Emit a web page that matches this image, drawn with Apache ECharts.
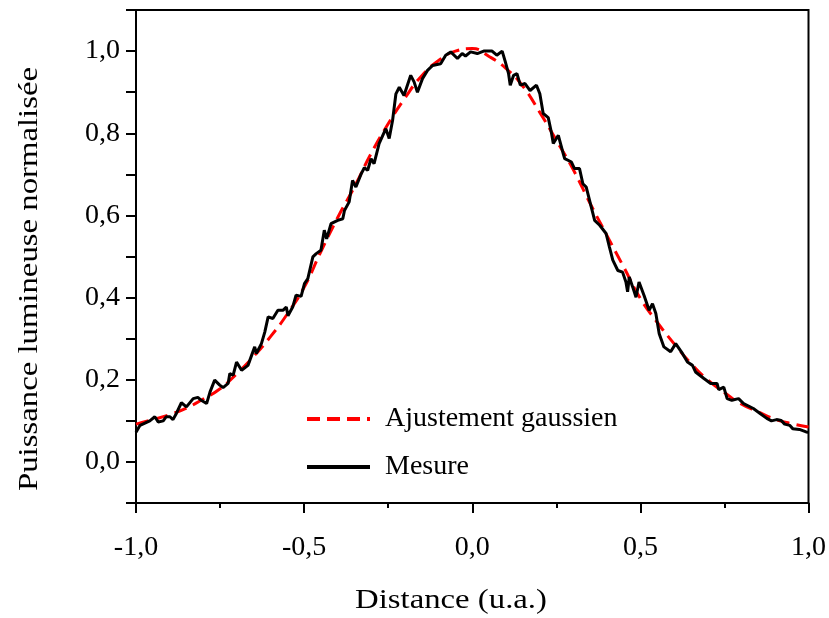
<!DOCTYPE html>
<html>
<head>
<meta charset="utf-8">
<script src="https://cdn.jsdelivr.net/npm/echarts@6/dist/echarts.min.js"></script>
<style>
html,body{margin:0;padding:0;background:#fff;}
#c{width:829px;height:618px;}
</style>
</head>
<body>
<div id="c"></div>
<script>
// Gaussian fit
var fitX = [-1.00,-0.95,-0.90,-0.85,-0.80,-0.75,-0.70,-0.65,-0.60,-0.55,-0.50,-0.45,-0.40,-0.35,-0.30,-0.25,-0.20,-0.15,-0.10,-0.05,0.00,0.05,0.10,0.15,0.20,0.25,0.30,0.35,0.40,0.45,0.50,0.55,0.60,0.65,0.70,0.75,0.80,0.85,0.90,0.95,1.00];
var fitY = [0.092,0.103,0.115,0.131,0.153,0.178,0.215,0.257,0.305,0.360,0.425,0.512,0.595,0.670,0.752,0.823,0.886,0.940,0.977,1.000,1.006,0.987,0.958,0.915,0.852,0.783,0.712,0.630,0.552,0.475,0.398,0.340,0.288,0.240,0.200,0.169,0.141,0.122,0.104,0.093,0.085];

var mesX = [-1.000,-0.988,-0.959,-0.944,-0.934,-0.919,-0.910,-0.899,-0.890,-0.880,-0.865,-0.850,-0.830,-0.816,-0.806,-0.790,-0.780,-0.766,-0.751,-0.741,-0.726,-0.721,-0.711,-0.701,-0.686,-0.667,-0.647,-0.642,-0.627,-0.617,-0.607,-0.593,-0.578,-0.563,-0.553,-0.548,-0.534,-0.524,-0.509,-0.499,-0.489,-0.474,-0.464,-0.450,-0.440,-0.433,-0.420,-0.400,-0.385,-0.380,-0.366,-0.356,-0.346,-0.331,-0.321,-0.311,-0.301,-0.292,-0.277,-0.257,-0.247,-0.237,-0.227,-0.217,-0.203,-0.183,-0.173,-0.163,-0.158,-0.148,-0.133,-0.118,-0.094,-0.079,-0.064,-0.044,-0.030,-0.020,-0.005,0.015,0.034,0.059,0.073,0.089,0.098,0.108,0.113,0.123,0.133,0.143,0.157,0.172,0.191,0.201,0.211,0.226,0.236,0.241,0.256,0.270,0.275,0.295,0.304,0.319,0.329,0.339,0.354,0.364,0.379,0.398,0.408,0.418,0.433,0.447,0.457,0.462,0.467,0.477,0.487,0.496,0.511,0.526,0.536,0.546,0.556,0.570,0.590,0.605,0.625,0.640,0.655,0.664,0.689,0.709,0.728,0.733,0.748,0.758,0.772,0.792,0.807,0.836,0.856,0.876,0.890,0.905,0.919,0.929,0.944,0.953,0.973,0.993,1.000];
var mesY = [0.072,0.089,0.100,0.110,0.097,0.100,0.110,0.110,0.103,0.118,0.144,0.134,0.154,0.157,0.150,0.142,0.170,0.199,0.187,0.181,0.191,0.215,0.211,0.243,0.223,0.235,0.280,0.264,0.288,0.316,0.353,0.349,0.369,0.369,0.377,0.356,0.377,0.406,0.403,0.434,0.446,0.499,0.507,0.515,0.564,0.543,0.580,0.588,0.592,0.612,0.633,0.685,0.669,0.700,0.716,0.710,0.738,0.726,0.775,0.811,0.787,0.831,0.896,0.912,0.892,0.941,0.925,0.900,0.900,0.933,0.953,0.965,0.969,0.990,0.998,0.982,0.994,0.988,0.998,0.994,1.000,1.000,0.990,1.000,0.975,0.945,0.917,0.941,0.945,0.917,0.921,0.904,0.917,0.896,0.848,0.838,0.799,0.775,0.795,0.752,0.738,0.730,0.714,0.714,0.677,0.669,0.620,0.588,0.576,0.556,0.523,0.491,0.466,0.462,0.438,0.414,0.450,0.426,0.401,0.438,0.405,0.369,0.385,0.361,0.312,0.280,0.268,0.288,0.264,0.243,0.235,0.219,0.203,0.191,0.191,0.176,0.182,0.154,0.150,0.154,0.142,0.130,0.118,0.106,0.100,0.103,0.101,0.092,0.089,0.081,0.079,0.073,0.072];

var xTitle = 'Distance (u.a.)';
var yTitle = 'Puissance lumineuse normalisée';
var fitName = 'Ajustement gaussien';
var mesName = 'Mesure';

function pairs(xs, ys){ return xs.map(function(x,i){ return [x, ys[i]]; }); }
function fmt(v){ return v.toFixed(1).replace('.', ','); }

var FONT = 'Liberation Serif';
var chart = echarts.init(document.getElementById('c'), null, {renderer:'canvas'});
chart.setOption({
  animation:false,
  backgroundColor:'#fff',
  grid:{left:136, right:18, top:10, bottom:115, show:true, borderColor:'#000', borderWidth:2, backgroundColor:'transparent'},
  xAxis:{
    type:'value', min:-1, max:1, interval:0.5,
    axisLine:{show:true, onZero:false, lineStyle:{color:'#000', width:2}},
    axisTick:{show:true, inside:false, length:10, lineStyle:{color:'#000', width:2}},
    minorTick:{show:true, splitNumber:2, length:5, lineStyle:{color:'#000', width:2}},
    splitLine:{show:false},
    axisLabel:{color:'#000', fontFamily:FONT, fontSize:28, margin:31, formatter:fmt}
  },
  yAxis:{
    type:'value', min:-0.1, max:1.1, interval:0.1,
    axisLine:{show:true, onZero:false, lineStyle:{color:'#000', width:2}},
    axisTick:{show:true, inside:false, length:10, lineStyle:{color:'#000', width:2}},
    splitLine:{show:false},
    axisLabel:{color:'#000', fontFamily:FONT, fontSize:28, margin:16, formatter:function(v){
      var r = Math.round(v*10);
      if (r>=0 && r<=10 && r%2===0) return fmt(r/10);
      return '';
    }}
  },
  legend:{
    orient:'vertical', left:305, top:405, padding:0, itemWidth:63, itemHeight:24, itemGap:20,
    data:[fitName, mesName],
    itemStyle:{opacity:0},
    lineStyle:{width:4},
    textStyle:{color:'#000', fontFamily:FONT, fontSize:28, padding:[0,0,0,10]},
    selectedMode:false
  },
  graphic:[
    {type:'text', x:451, y:601, scaleX:1.17, style:{text:xTitle, fill:'#000', font:'28px "Liberation Serif"', textAlign:'center', textVerticalAlign:'middle'}},
    {type:'text', x:30, y:279, rotation:Math.PI/2, scaleX:1.17, style:{text:yTitle, fill:'#000', font:'28px "Liberation Serif"', textAlign:'center', textVerticalAlign:'middle'}}
  ],
  series:[
    {name:fitName, type:'line', data:pairs(fitX, fitY), smooth:true, symbol:'none', z:2,
      lineStyle:{color:'#ff0000', width:3, type:[13,7]}, itemStyle:{color:'#ff0000'}},
    {name:mesName, type:'line', data:pairs(mesX, mesY), symbol:'none', z:3,
      lineStyle:{color:'#000', width:3}, itemStyle:{color:'#000'}}
  ]
});
</script>
</body>
</html>
